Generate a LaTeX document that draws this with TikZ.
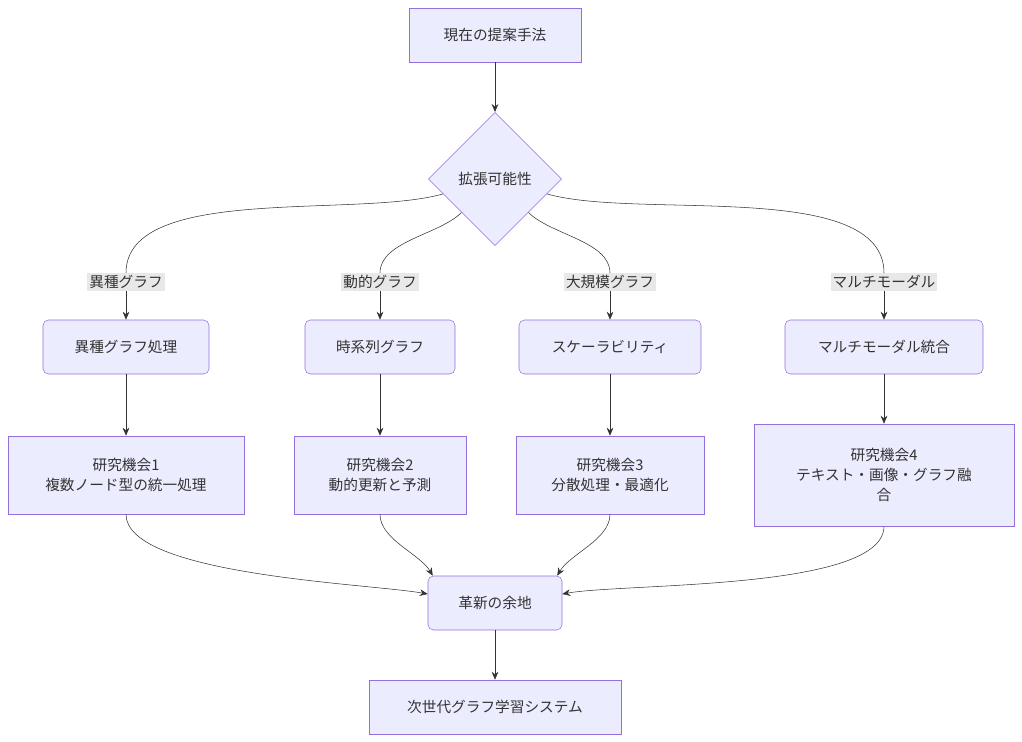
\documentclass[tikz,border=0pt]{standalone}
\usepackage{fontspec}
\setmainfont{Noto Sans CJK JP}
\usetikzlibrary{shapes.geometric,arrows.meta}
\definecolor{boxfill}{HTML}{ECECFF}
\definecolor{boxline}{HTML}{9370DB}
\definecolor{txt}{HTML}{333333}
\definecolor{lblbg}{HTML}{E8E8E8}
\tikzset{
  box/.style={draw=boxline,fill=boxfill,text=txt,rounded corners=#1,minimum height=40.5pt,align=center,font=\fontsize{11}{15}\selectfont},
  box/.default=0pt,
  lbl/.style={fill=lblbg,text=txt,inner sep=1.5pt,font=\fontsize{11}{13}\selectfont},
  edge/.style={draw=txt,-{Stealth[length=6pt,width=5pt]}},
  line/.style={draw=txt}
}
\begin{document}
\begin{tikzpicture}[x=0.75pt,y=-0.75pt]
\useasboundingbox (0,0) rectangle (1022,742);
        \node[box,minimum width=129pt] (cur) at (495,35){現在の提案手法};
        \node[draw=boxline,fill=boxfill,text=txt,diamond,minimum width=100pt,minimum height=100pt,font=\fontsize{11}{13}\selectfont] (ext) at (495,179){拡張可能性};
        \node[lbl] (l1) at (126,282){異種グラフ};
        \node[lbl] (l2) at (380,282){動的グラフ};
        \node[lbl] (l3) at (610,282){大規模グラフ};
        \node[lbl] (l4) at (884,282){マルチモーダル};
        \node[box=4pt,minimum width=124.5pt] (a) at (126,347){異種グラフ処理};
        \node[box=4pt,minimum width=112.5pt] (b) at (380,347){時系列グラフ};
        \node[box=4pt,minimum width=136.5pt] (c) at (610,347){スケーラビリティ};
        \node[box=4pt,minimum width=148.5pt] (d) at (884,347){マルチモーダル統合};
        \node[box,minimum width=177pt,minimum height=58.5pt] (r1) at (126,475){研究機会1\\複数ノード型の統一処理};
        \node[box,minimum width=129pt,minimum height=58.5pt] (r2) at (380,475){研究機会2\\動的更新と予測};
        \node[box,minimum width=141pt,minimum height=58.5pt] (r3) at (610,475){研究機会3\\分散処理・最適化};
        \node[box,minimum width=195pt,minimum height=76.5pt] (r4) at (884,475){研究機会4\\テキスト・画像・グラフ融\\合};
        \node[box=4pt,minimum width=100.5pt] (inn) at (495,603){革新の余地};
        \node[box,minimum width=189pt] (sys) at (495,707){次世代グラフ学習システム};

        \path [edge] (cur) to (ext);
        \path [line] (ext.196) to[out=196,in=90,looseness=0.7] (l1.north);
        \path [line] (ext.225) to[out=225,in=90,looseness=0.8] (l2.north);
        \path [line] (ext.315) to[out=-45,in=90,looseness=0.8] (l3.north);
        \path [line] (ext.344) to[out=-16,in=90,looseness=0.7] (l4.north);
        \path [edge] (l1) to (a);
        \path [edge] (l2) to (b);
        \path [edge] (l3) to (c);
        \path [edge] (l4) to (d);
        \path [edge] (a) to (r1);
        \path [edge] (b) to (r2);
        \path [edge] (c) to (r3);
        \path [edge] (d) to (r4);
        \path [edge] (r1.south) to[out=-90,in=170,looseness=0.5] (inn.west |- 0,594);
        \path [edge] (r2.south) to[out=-90,in=120,looseness=0.8] ([xshift=3.75pt]inn.north west);
        \path [edge] (r3.south) to[out=-90,in=60,looseness=0.8] ([xshift=-3.75pt]inn.north east);
        \path [edge] (r4.south) to[out=-90,in=10,looseness=0.5] (inn.east |- 0,594);
        \path [edge] (inn) to (sys);
    \end{tikzpicture}
\end{document}
